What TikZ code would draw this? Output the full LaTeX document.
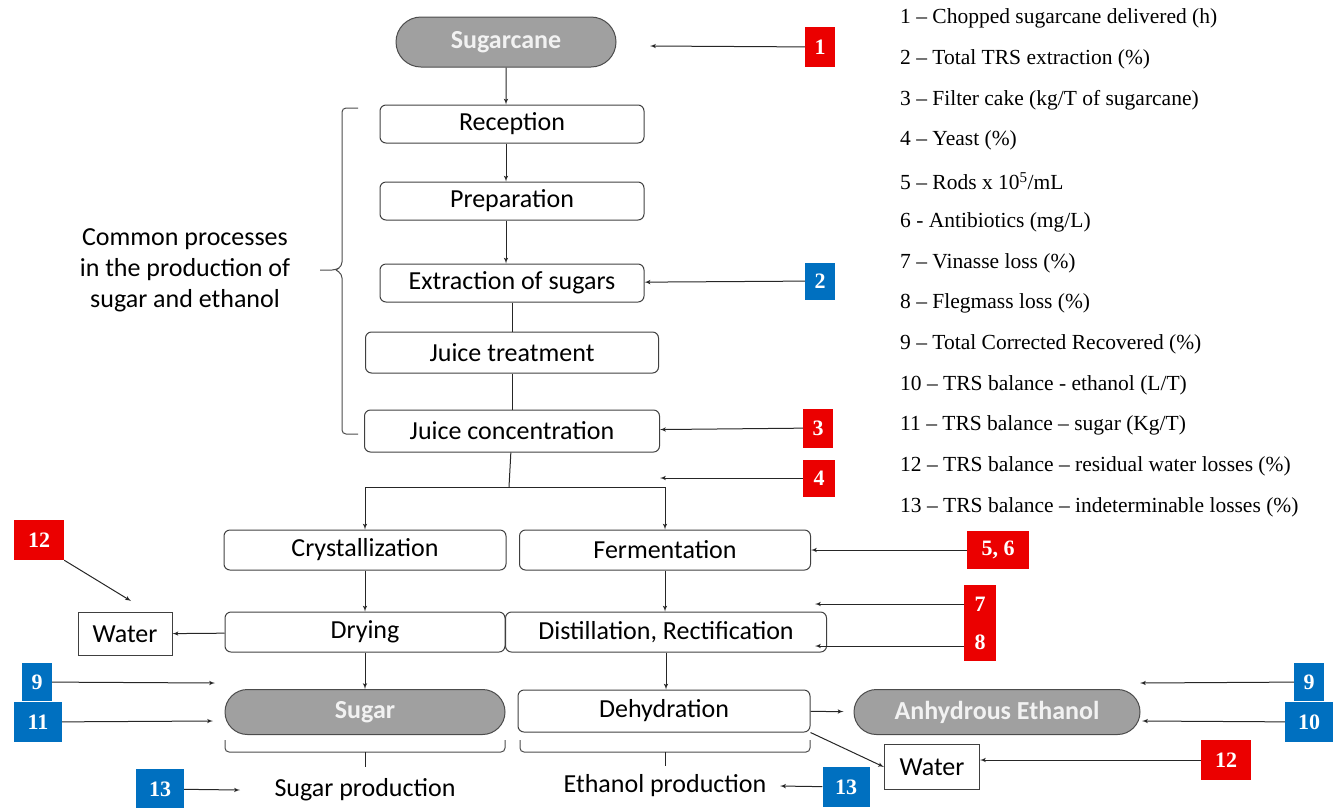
\documentclass[tikz,border=0pt]{standalone}
\usepackage{fontspec}
\setmainfont{Liberation Serif}
\newfontfamily\boxfont{Carlito}
\usetikzlibrary{arrows,positioning,shapes.misc}
\definecolor{numred}{RGB}{235,0,0}
\definecolor{numblue}{RGB}{0,112,192}
\definecolor{pillgray}{RGB}{160,160,160}

\begin{document}
\begin{tikzpicture}[>=latex', x=1pt, y=-1pt]
        \tikzset{block/.style={draw=black!75, rectangle, rounded corners=6pt, line width=1pt, inner sep=0pt, font=\boxfont\fontsize{26}{30}\selectfont},
        pill/.style={draw=black!70, fill=pillgray, rounded rectangle, line width=1pt, inner sep=0pt, text=black!5, font=\boxfont\bfseries\fontsize{26}{30}\selectfont},
        wblock/.style={draw=black!75, rectangle, line width=1pt, inner sep=0pt, font=\boxfont\fontsize{26}{30}\selectfont},
        rnum/.style={fill=numred, inner sep=0pt, text=white, font=\bfseries\fontsize{22}{24}\selectfont},
        bnum/.style={fill=numblue, inner sep=0pt, text=white, font=\bfseries\fontsize{22}{24}\selectfont},
        leg/.style={anchor=west, inner sep=0pt, font=\fontsize{21.5}{24}\selectfont},
        lab/.style={align=center, inner sep=0pt, font=\boxfont\fontsize{26}{31}\selectfont},
        line/.style={draw=black!85, line width=1pt},
        brace/.style={draw=black!70, line width=1pt, rounded corners=4pt}
        }
        \useasboundingbox (0,0) rectangle (1338,807);

%%% common column
        \node [pill, minimum width=220pt, minimum height=50pt] (cane) at (506,42) {Sugarcane};
        \node [block, minimum width=264pt, minimum height=38pt] (recep) at (512,124) {Reception};
        \node [block, minimum width=264pt, minimum height=38pt, below=38pt of recep] (prep) {Preparation};
        \node [block, minimum width=264pt, minimum height=38pt, below=43pt of prep] (extr) {Extraction of sugars};
        \node [block, minimum width=293pt, minimum height=41pt, below=29pt of extr] (treat) {Juice treatment};
        \node [block, minimum width=295pt, minimum height=42pt, below=36pt of treat] (conc) {Juice concentration};
        \node [lab] (common) at (185,270) {Common processes\\in the production of\\sugar and ethanol};

%%% sugar and ethanol branches
        \node [block, minimum width=282pt, minimum height=40pt] (crys) at (365,550) {Crystallization};
        \node [block, minimum width=291pt, minimum height=40pt] (ferm) at (665,550) {Fermentation};
        \node [block, minimum width=280pt, minimum height=40pt] (dry) at (365,632) {Drying};
        \node [block, minimum width=321pt, minimum height=40pt] (dist) at (666,632) {Distillation, Rectification};
        \node [pill, minimum width=280pt, minimum height=45pt] (sugar) at (365,712) {Sugar};
        \node [block, minimum width=292pt, minimum height=42pt] (dehyd) at (664,711) {Dehydration};
        \node [pill, minimum width=286pt, minimum height=45pt] (ethanol) at (997,712) {Anhydrous Ethanol};
        \node [wblock, minimum width=94pt, minimum height=43pt] (waterL) at (125,634) {Water};
        \node [wblock, minimum width=95pt, minimum height=45pt] (waterR) at (932,767) {Water};
        \node [lab] (sprod) at (365,790) {Sugar production};
        \node [lab] (eprod) at (665,786) {Ethanol production};

%%% numbered markers
        \node [rnum, minimum width=30pt, minimum height=40pt] (n1) at (820,47) {1};
        \node [bnum, minimum width=30pt, minimum height=37pt] (n2) at (820,281) {2};
        \node [rnum, minimum width=30pt, minimum height=39pt] (n3) at (818,428) {3};
        \node [rnum, minimum width=32pt, minimum height=37pt] (n4) at (819,478) {4};
        \node [rnum, minimum width=62pt, minimum height=38pt] (n56) at (998,550) {5, 6};
        \node [rnum, minimum width=32pt, minimum height=38pt] (n7) at (980,604) {7};
        \node [rnum, minimum width=32pt, minimum height=38pt, below=0pt of n7] (n8) {8};
        \node [rnum, minimum width=50pt, minimum height=40pt] (n12a) at (39,540) {12};
        \node [bnum, minimum width=30pt, minimum height=38pt] (n9a) at (37,682) {9};
        \node [bnum, minimum width=48pt, minimum height=40pt] (n11a) at (38,722) {11};
        \node [bnum, minimum width=48pt, minimum height=40pt] (n13a) at (160,789) {13};
        \node [bnum, minimum width=47pt, minimum height=40pt] (n13b) at (846,787) {13};
        \node [bnum, minimum width=30pt, minimum height=38pt] (n9b) at (1309,682) {9};
        \node [bnum, minimum width=48pt, minimum height=40pt] (n10b) at (1309,722) {10};
        \node [rnum, minimum width=50pt, minimum height=40pt] (n12b) at (1226,760) {12};

%%% legend
        \node [leg] (l1) at (900,18) {1 -- Chopped sugarcane delivered (h)};
        \node [leg] (l2) at (900,59) {2 -- Total TRS extraction (\%)};
        \node [leg] (l3) at (900,100) {3 -- Filter cake (kg/T of sugarcane)};
        \node [leg] (l4) at (900,140) {4 -- Yeast (\%)};
        \node [leg] (l5) at (900,181) {5 -- Rods x 10\textsuperscript{5}/mL};
        \node [leg] (l6) at (900,222) {6 - Antibiotics (mg/L)};
        \node [leg] (l7) at (900,263) {7 -- Vinasse loss (\%)};
        \node [leg] (l8) at (900,303) {8 -- Flegmass loss (\%)};
        \node [leg] (l9) at (900,344) {9 -- Total Corrected Recovered (\%)};
        \node [leg] (l10) at (900,385) {10 -- TRS balance - ethanol (L/T)};
        \node [leg] (l11) at (900,425) {11 -- TRS balance -- sugar (Kg/T)};
        \node [leg] (l12) at (900,466) {12 -- TRS balance -- residual water losses (\%)};
        \node [leg] (l13) at (900,507) {13 -- TRS balance -- indeterminable losses (\%)};

%%% free ends
        \coordinate (split) at (509,487);
        \coordinate (a1) at (650,46);
        \coordinate (a4) at (660,478);
        \coordinate (a7) at (815,604);
        \coordinate (a8) at (815,646);
        \coordinate (a12a) at (131,601);
        \coordinate (a9a) at (215,683);
        \coordinate (a11a) at (213,721);
        \coordinate (a13a) at (240,790);
        \coordinate (a13b) at (780,786);
        \coordinate (a9b) at (1140,683);
        \coordinate (a10b) at (1142,721);

%%% paths
        \path[->, every edge/.style={line}]
                    (cane) edge (cane |- recep.north)
                    (cane |- recep.south) edge (cane |- prep.north)
                    (cane |- prep.south) edge (cane |- extr.north)
                    (split -| crys) edge (crys)
                    (split -| ferm) edge (ferm)
                    (crys) edge (dry)
                    (ferm) edge (ferm |- dist.north)
                    (dry) edge (sugar)
                    (dist) edge (dist |- dehyd.north)
                    (dry) edge (waterL)
                    (dehyd) edge[shorten >=10pt] (ethanol)
                    (dehyd.south east) edge (waterR.west)
                    (n1) edge (a1)
                    (n2) edge (extr)
                    (n3) edge (conc)
                    (n4) edge (a4)
                    (n56) edge (ferm)
                    (n7.west) edge (a7)
                    (n8.west |- a8) edge (a8)
                    (n12a.south east) edge (a12a)
                    (n9a) edge (a9a)
                    (n11a) edge (a11a)
                    (n13a) edge (a13a)
                    (n13b) edge (a13b)
                    (n9b) edge (a9b)
                    (n10b) edge (a10b)
                    (n12b) edge (n12b -| waterR.east)
                    ;
        \path[every edge/.style={line}]
                    (extr) edge (treat)
                    (treat) edge (conc)
                    (conc) edge (split)
                    (split -| crys) edge (split -| ferm)
                    ;

%%% braces
        \draw[brace] (358,108) -- (342,108) -- (342,266) -- (336,270) -- (320,270);
        \draw[brace] (336,270) -- (342,274) -- (342,434) -- (358,434);
        \draw[brace] (225,740) -- (225,752) -- (505,752) -- (505,740);
        \draw[line] (365,752) -- (365,767);
        \draw[brace] (520,740) -- (520,752) -- (810,752) -- (810,740);
        \draw[line] (665,752) -- (665,766);
    \end{tikzpicture}
\end{document}
